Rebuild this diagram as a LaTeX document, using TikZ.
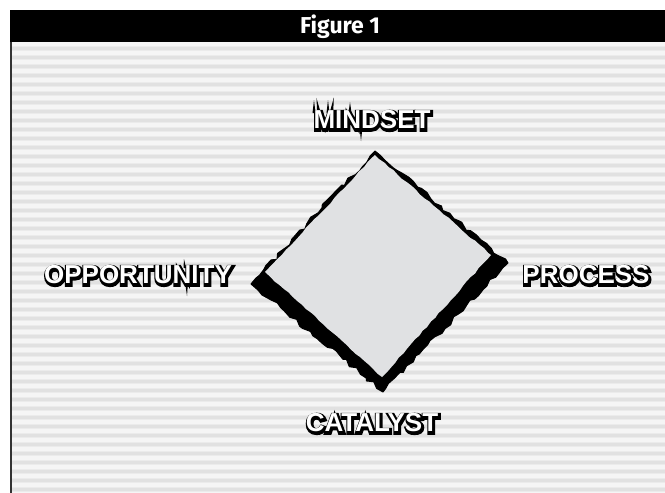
\documentclass[tikz,border=0pt]{standalone}
\usepackage{fontspec}
\usetikzlibrary{decorations.pathmorphing}
\newfontfamily\lblfont{Liberation Sans}
\newfontfamily\headfont{Fira Sans}

\definecolor{stripebase}{HTML}{F5F5F5}
\definecolor{stripemid}{HTML}{EBEBEB}
\definecolor{stripedark}{HTML}{E1E1E1}
\definecolor{diamondfill}{HTML}{E0E1E3}
\definecolor{borderline}{HTML}{333333}

\tikzset{
  lbltxt/.style={inner sep=0pt, text=white, font=\lblfont\bfseries\fontsize{26}{26}\selectfont},
  lblshadow/.style={lbltxt, text=black, xshift=0.9pt, yshift=-0.9pt},
  headtxt/.style={inner sep=0pt, text=white, font=\headfont\bfseries\fontsize{23}{23}\selectfont},
  rough/.style={decorate, decoration={random steps, segment length=#1, amplitude=2.2pt}}
}

% letters with a black outline of the given width
\newcommand{\outlined}[2]{\special{pdf:literal direct 2 Tr 0 G #1 w}#2\special{pdf:literal direct 0 Tr}}

\begin{document}
\begin{tikzpicture}[x=1pt, y=1pt]
    \useasboundingbox (0,0) rectangle (665,-493);

    % Striped background
    \fill[stripebase] (10,-42) rectangle (665,-493);
    \foreach \i in {0,...,49} {
      \fill[stripemid] (10,-46-9*\i) rectangle (665,-51-9*\i);
      \fill[stripedark] (10,-47-9*\i) rectangle (665,-50-9*\i);
    }
    \draw[borderline, line width=1.5pt] (11,-42) -- (11,-493);

    % Header bar
    \fill[black] (10,-10) rectangle (665,-42);
    \node[headtxt] (title) at (340,-27) {Figure 1};

    % Diamond with its rough shadow
    \pgfmathsetseed{11}
    \coordinate (st) at (375,-151);
    \coordinate (sr) at (508,-263);
    \coordinate (sb) at (383,-392);
    \coordinate (sl) at (251,-284);
    \filldraw[black, line join=round, line width=1pt, rough=6pt] (st) -- (sr) -- (sb) -- (sl) -- cycle;
    \coordinate (dt) at (375,-155);
    \coordinate (dr) at (491,-255);
    \coordinate (db) at (382,-377);
    \coordinate (dl) at (265,-272);
    \fill[diamondfill, decorate, decoration={random steps, segment length=6pt, amplitude=0.7pt}]
      (dt) -- (dr) -- (db) -- (dl) -- cycle;

    % Cracks round the letters
    \fill[black] (312.5,-113) -- (314,-100) -- (315.5,-113) -- cycle;
    \fill[black] (326.5,-113) -- (328,-100) -- (329.5,-113) -- cycle;
    \fill[black] (348.5,-113) -- (350,-102) -- (351.5,-113) -- cycle;
    \fill[black] (359.5,-127) -- (361,-141) -- (362.5,-127) -- cycle;
    \fill[black] (183.5,-268) -- (184,-259) -- (186,-268) -- cycle;
    \fill[black] (185,-282) -- (187,-296) -- (188,-282) -- cycle;

    % Label outlines and shadows
    \node[lblshadow] (mindsetsh) at (372,-120) {\outlined{4}{MINDSET}};
    \node[lblshadow] (opportunitysh) at (138,-275) {\outlined{4}{OPPORTUNITY}};
    \node[lblshadow] (processsh) at (586,-275) {\outlined{4}{PROCESS}};
    \node[lblshadow] (catalystsh) at (372,-423) {\outlined{4}{CATALYST}};

    % Labels
    \node[lbltxt] (mindset) at (372,-120) {MINDSET};
    \node[lbltxt] (opportunity) at (138,-275) {OPPORTUNITY};
    \node[lbltxt] (process) at (586,-275) {PROCESS};
    \node[lbltxt] (catalyst) at (372,-423) {CATALYST};
\end{tikzpicture}
\end{document}
